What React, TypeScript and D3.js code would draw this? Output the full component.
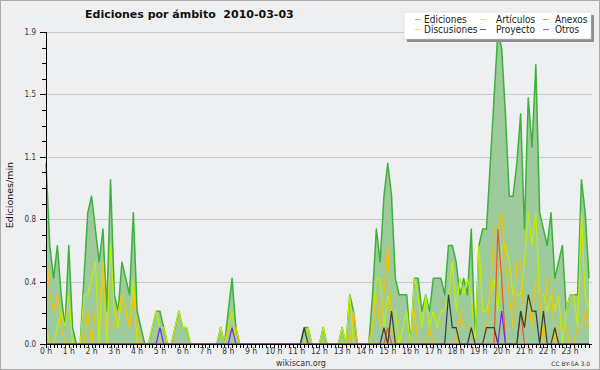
import React from 'react';
import * as d3 from 'd3';

// 10-minute slots, 00:00 .. 23:50 (edits per minute)
const ediciones = [
  1.1, 0.6, 0.4, 0.6, 0.3, 0.1, 0.6, 0.1, 0, 0, 0.4, 0.8,
  0.9, 0.7, 0.5, 0.7, 0.2, 1.0, 0.3, 0.2, 0.5, 0.4, 0.3, 0.8,
  0.2, 0.1, 0, 0, 0.1, 0.2, 0.2, 0.1, 0, 0, 0.1, 0.2,
  0.1, 0.1, 0, 0, 0, 0, 0, 0, 0, 0, 0.1, 0,
  0.2, 0.4, 0.1, 0, 0, 0, 0, 0, 0, 0, 0, 0,
  0, 0, 0, 0, 0, 0, 0, 0, 0.1, 0.1, 0, 0,
  0, 0.1, 0, 0, 0, 0, 0.1, 0, 0.3, 0.2, 0, 0,
  0, 0, 0.3, 0.7, 0.5, 0.9, 1.1, 0.9, 0.4, 0.3, 0.3, 0.3,
  0, 0.4, 0.4, 0.2, 0.3, 0.2, 0.4, 0.4, 0.4, 0.3, 0.6, 0.6,
  0.5, 0.3, 0.4, 0.3, 0.7, 0, 0.6, 0.7, 0.7, 1.1, 1.5, 1.9,
  1.8, 1.4, 0.9, 0.9, 1.1, 1.4, 0.7, 1.5, 1.2, 1.7, 0.8, 0.7,
  0.6, 0.8, 0.4, 0.5, 0.6, 0.2, 0.3, 0.3, 0.3, 1.0, 0.8, 0.4,
];

const articulos = [
  0.1, 0, 0, 0.1, 0.2, 0.1, 0.3, 0, 0, 0, 0.3, 0.3,
  0.4, 0.5, 0, 0.5, 0, 0.6, 0.2, 0.1, 0.3, 0.2, 0.1, 0.4,
  0, 0, 0, 0, 0.1, 0.2, 0.1, 0.1, 0, 0, 0.1, 0.2,
  0.1, 0.1, 0, 0, 0, 0, 0, 0, 0, 0, 0.1, 0,
  0.1, 0.2, 0, 0, 0, 0, 0, 0, 0, 0, 0, 0,
  0, 0, 0, 0, 0, 0, 0, 0, 0, 0.1, 0, 0,
  0, 0.1, 0, 0, 0, 0, 0.1, 0, 0.3, 0, 0, 0,
  0, 0, 0.1, 0.4, 0.4, 0.1, 0.3, 0.2, 0.2, 0, 0.1, 0.2,
  0, 0.4, 0.3, 0.1, 0.3, 0.1, 0.2, 0.1, 0.2, 0.2, 0.3, 0.5,
  0.2, 0.4, 0.3, 0.4, 0.3, 0, 0.6, 0.2, 0.2, 0.3, 0.4, 0.2,
  0.6, 0.6, 0.5, 0.3, 0.3, 0.3, 0.5, 0.8, 0.6, 0.8, 0.3, 0.3,
  0.2, 0.3, 0.2, 0.3, 0, 0.2, 0.3, 0.3, 0.1, 0.8, 0.3, 0.2,
];

const discusiones = [
  0.6, 0.3, 0.2, 0.3, 0.1, 0, 0, 0, 0, 0, 0, 0.2,
  0, 0.2, 0.2, 0.5, 0.1, 0.1, 0.1, 0.2, 0.3, 0.2, 0.1, 0.3,
  0.1, 0, 0, 0, 0, 0, 0, 0, 0, 0, 0, 0,
  0, 0, 0, 0, 0, 0, 0, 0, 0, 0, 0, 0,
  0.1, 0.1, 0.1, 0, 0, 0, 0, 0, 0, 0, 0, 0,
  0, 0, 0, 0, 0, 0, 0, 0, 0, 0, 0, 0,
  0, 0, 0, 0, 0, 0, 0, 0, 0, 0.2, 0, 0,
  0, 0, 0.1, 0.3, 0.1, 0.3, 0.6, 0.1, 0, 0, 0, 0,
  0, 0.2, 0, 0, 0, 0.1, 0, 0, 0, 0, 0, 0,
  0, 0.2, 0.1, 0.1, 0.1, 0, 0, 0, 0.1, 0.3, 0.7, 0.7,
  0.8, 0.5, 0.3, 0.1, 0.5, 0.5, 0.1, 0.3, 0.1, 0.4, 0.3, 0,
  0.4, 0.4, 0, 0.1, 0.1, 0.1, 0, 0, 0.1, 0.1, 0.2, 0.1,
];

const anexos = [
  0, 0, 0, 0, 0, 0, 0, 0, 0, 0, 0, 0,
  0, 0, 0, 0, 0, 0, 0, 0, 0, 0, 0, 0,
  0, 0, 0, 0, 0, 0, 0, 0, 0, 0, 0, 0,
  0, 0, 0, 0, 0, 0, 0, 0, 0, 0, 0, 0,
  0, 0, 0, 0, 0, 0, 0, 0, 0, 0, 0, 0,
  0, 0, 0, 0, 0, 0, 0, 0, 0, 0, 0, 0,
  0, 0, 0, 0, 0, 0, 0, 0, 0, 0, 0, 0,
  0, 0, 0, 0, 0, 0, 0.1, 0, 0, 0, 0, 0,
  0, 0, 0, 0, 0, 0, 0, 0, 0, 0, 0, 0,
  0, 0, 0, 0, 0, 0, 0, 0, 0, 0, 0, 0.7,
  0.4, 0, 0, 0, 0, 0.2, 0, 0, 0, 0, 0, 0,
  0, 0, 0, 0, 0, 0, 0, 0, 0, 0, 0, 0,
];

const proyecto = [
  0, 0, 0, 0, 0, 0, 0, 0, 0, 0, 0, 0,
  0, 0, 0, 0, 0, 0, 0, 0, 0, 0, 0, 0,
  0, 0, 0, 0, 0, 0, 0, 0, 0, 0, 0, 0,
  0, 0, 0, 0, 0, 0, 0, 0, 0, 0, 0, 0,
  0, 0, 0, 0, 0, 0, 0, 0, 0, 0, 0, 0,
  0, 0, 0, 0, 0, 0, 0, 0, 0.1, 0, 0, 0,
  0, 0, 0, 0, 0, 0, 0, 0, 0, 0, 0, 0,
  0, 0, 0, 0, 0, 0.1, 0, 0.2, 0, 0, 0, 0,
  0, 0, 0, 0, 0, 0, 0, 0, 0, 0, 0.3, 0.1,
  0.1, 0, 0, 0, 0.1, 0, 0, 0, 0.1, 0.1, 0.1, 0,
  0, 0, 0, 0, 0, 0.2, 0.1, 0.3, 0.2, 0.2, 0, 0.2,
  0, 0, 0.1, 0, 0, 0, 0, 0, 0, 0, 0, 0,
];

const otros = [
  0, 0, 0, 0, 0, 0, 0, 0, 0, 0, 0, 0,
  0, 0, 0, 0, 0, 0, 0, 0, 0, 0, 0, 0,
  0, 0, 0, 0, 0, 0, 0.1, 0, 0, 0, 0, 0,
  0, 0, 0, 0, 0, 0, 0, 0, 0, 0, 0, 0,
  0, 0.1, 0, 0, 0, 0, 0, 0, 0, 0, 0, 0,
  0, 0, 0, 0, 0, 0, 0, 0, 0, 0, 0, 0,
  0, 0, 0, 0, 0, 0, 0, 0, 0, 0, 0, 0,
  0, 0, 0, 0, 0, 0, 0, 0, 0, 0, 0, 0,
  0, 0, 0, 0, 0, 0, 0, 0, 0, 0, 0, 0,
  0, 0, 0, 0, 0, 0, 0, 0, 0, 0, 0, 0,
  0.2, 0, 0, 0, 0, 0, 0, 0, 0, 0, 0, 0,
  0, 0, 0, 0, 0, 0, 0, 0, 0, 0, 0, 0,
];

const hourLabels = [
  '0 h', '1 h', '2 h', '3 h', '4 h', '5 h', '6 h', '7 h', '8 h', '9 h', '10 h', '11 h',
  '12 h', '13 h', '14 h', '15 h', '16 h', '17 h', '18 h', '19 h', '20 h', '21 h', '22 h', '23 h',
];
const yTickValues = [0, 0.38, 0.76, 1.14, 1.52, 1.9];
const yMax = 1.9;

const lineSeries = [
  { name: 'Artículos', data: articulos, color: '#c4ee00' },
  { name: 'Discusiones', data: discusiones, color: '#f7c200' },
  { name: 'Anexos', data: anexos, color: '#f2561d' },
  { name: 'Proyecto', data: proyecto, color: '#3a3a3a' },
  { name: 'Otros', data: otros, color: '#7b24f0' },
];

const legendItems = [
  { name: 'Ediciones', color: '#86cf86' },
  { name: 'Artículos', color: '#d2f27a' },
  { name: 'Anexos', color: '#f59868' },
  { name: 'Discusiones', color: '#f8d56a' },
  { name: 'Proyecto', color: '#666666' },
  { name: 'Otros', color: '#9b55f5' },
];

const W = 600;
const H = 370;
const left = 46;
const right = 589;
const top = 32;
const bottom = 344;
const font = "'DejaVu Sans', sans-serif";
const condensed = "'DejaVu Sans Condensed', 'DejaVu Sans', sans-serif";

export default function App() {
  const x = d3.scaleLinear().domain([0, ediciones.length - 1]).range([left, right]);
  const y = d3.scaleLinear().domain([0, yMax]).range([bottom, top]);

  const line = d3.line<number>().x((_, i) => x(i)).y(d => y(d));
  const area = d3.area<number>().x((_, i) => x(i)).y0(y(0)).y1(d => y(d));

  const minorTicks = d3.range(0, 21).map(k => (k * yMax) / 20);
  const crisp = (v: number) => Math.round(v) + 0.5;

  // legend layout: 3 columns, 2 rows
  const swatchX = [415, 480, 543];
  const textX = [424, 496, 555];
  const rowY = [19, 29];

  return (
    <div style={{ position: 'absolute', left: 0, top: 0 }}>
      <svg width={W} height={H} style={{ display: 'block' }}>
        <rect x={0.5} y={0.5} width={W - 1} height={H - 1} fill="#eeeff0" stroke="#aaaaaa" />

        {/* title */}
        <text x={85} y={18} fontFamily={font} fontWeight="bold" fontSize={11} fill="#111">
          {'Ediciones por ámbito\u00a0\u00a02010-03-03'}
        </text>

        {/* grid */}
        {yTickValues.map(v => (
          <line key={v} x1={left} x2={592} y1={crisp(y(v))} y2={crisp(y(v))} stroke="#c9c9c9" />
        ))}

        {/* Ediciones area */}
        <path d={area(ediciones) ?? ''} fill="#9dcb9b" />
        <path d={line(ediciones) ?? ''} fill="none" stroke="#3cb23a" strokeWidth={1.5} strokeLinejoin="round" />

        {lineSeries.map(s => (
          <path key={s.name} d={line(s.data) ?? ''} fill="none" stroke={s.color} strokeWidth={1.2} />
        ))}

        {/* y axis */}
        <line x1={left + 0.5} x2={left + 0.5} y1={top} y2={bottom + 1} stroke="#000" />
        {minorTicks.map((v, k) => (
          <line key={k} x1={k % 4 === 0 ? left - 6 : left - 4} x2={left} y1={crisp(y(v))} y2={crisp(y(v))} stroke="#000" />
        ))}
        {yTickValues.map(v => (
          <text key={v} x={36} y={y(v) + 3} textAnchor="end" fontFamily={condensed} fontSize={8} fill="#333">
            {d3.format('.1f')(v)}
          </text>
        ))}
        <text
          transform={`translate(13, 195) rotate(-90)`}
          textAnchor="middle"
          fontFamily={font}
          fontSize={9.5}
          fill="#111"
        >
          Ediciones/min
        </text>

        {/* x axis */}
        <line x1={left} x2={592} y1={bottom + 0.5} y2={bottom + 0.5} stroke="#000" />
        {ediciones.map((_, i) => (
          <line key={i} x1={crisp(x(i))} x2={crisp(x(i))} y1={bottom} y2={bottom + 4} stroke="#000" />
        ))}
        {hourLabels.map((h, k) => (
          <text key={h} x={x(k * 6)} y={354} textAnchor="middle" fontFamily={condensed} fontSize={8.5} fill="#333">
            {h}
          </text>
        ))}

        {/* legend */}
        <rect x={407} y={15} width={187} height={27} fill="#8f8f8f" />
        <rect x={404} y={12} width={187} height={27} fill="#ffffff" stroke="#d0d0d0" strokeWidth={0.5} />
        {legendItems.map((it, k) => {
          const col = k % 3;
          const row = Math.floor(k / 3);
          return (
            <g key={it.name}>
              <line x1={swatchX[col]} x2={swatchX[col] + 6} y1={rowY[row] + 0.5} y2={rowY[row] + 0.5} stroke={it.color} />
              <text x={textX[col]} y={rowY[row] + 4} fontFamily={condensed} fontSize={10} fill="#222">
                {it.name}
              </text>
            </g>
          );
        })}

        {/* footer */}
        <text x={301} y={366} textAnchor="middle" fontFamily={font} fontSize={8} fill="#333">
          wikiscan.org
        </text>
        <text x={590} y={366} textAnchor="end" fontFamily={font} fontSize={6} fill="#333">
          CC BY-SA 3.0
        </text>
      </svg>
    </div>
  );
}
